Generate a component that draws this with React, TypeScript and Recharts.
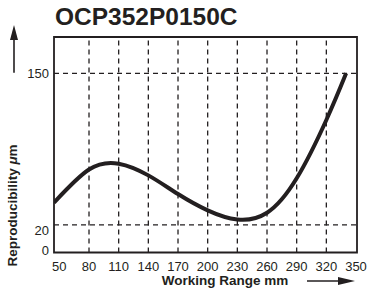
import React from "react";
import { LineChart, Line, XAxis, YAxis, ReferenceLine, ReferenceArea } from "recharts";

const xValues = [44.6, 80, 110, 140, 170, 200, 230, 260, 290, 320, 340];
const yValues = [39.1, 67.5, 72.5, 62.5, 46.5, 32.5, 24.7, 30.5, 60, 110, 150];
const xTicks = [50, 80, 110, 140, 170, 200, 230, 260, 290, 320, 350];
const yTicks = [0, 20, 150];
const gridX = [80, 110, 140, 170, 200, 230, 260, 290, 320];
const gridY = [20, 150];
const xDomain: [number, number] = [44.6, 351];
const yDomain: [number, number] = [-3.6, 181.1];

const title = "OCP352P0150C";
const xLabel = "Working Range mm";

const data = xValues.map((x, i) => ({ x, y: yValues[i] }));

const INK = "#231f20";
const FONT = "'Liberation Sans', Arial, Helvetica, sans-serif";

const yNudge: Record<number, number> = { 0: 2, 20: 5, 150: 0 };

const XTick = (props: any) => {
  const { x, y, payload } = props;
  return (
    <text x={x} y={y + 18} textAnchor="middle" fontSize={13} fill={INK} fontFamily={FONT}>
      {payload.value}
    </text>
  );
};

const YTick = (props: any) => {
  const { x, y, payload } = props;
  const n = yNudge[payload.value] ?? 0;
  return (
    <text x={x - 5} y={y + 4.7 + n} textAnchor="end" fontSize={13} fill={INK} fontFamily={FONT}>
      {payload.value}
    </text>
  );
};

export default function App() {
  return (
    <div style={{ position: "absolute", left: 0, top: 0, width: 370, height: 293, background: "#fff" }}>
      <LineChart width={370} height={293} data={data} margin={{ top: 37, right: 13, bottom: 10.5, left: 0 }}>
        <XAxis
          dataKey="x"
          type="number"
          domain={xDomain}
          allowDataOverflow
          ticks={xTicks}
          tick={<XTick />}
          tickLine={false}
          axisLine={false}
          tickSize={0}
          tickMargin={0}
          height={30}
          interval={0}
        />
        <YAxis
          type="number"
          domain={yDomain}
          allowDataOverflow
          ticks={yTicks}
          tick={<YTick />}
          tickLine={false}
          axisLine={false}
          tickSize={0}
          tickMargin={0}
          width={54}
          interval={0}
        />
        {gridX.map((v) => (
          <ReferenceLine key={"gx" + v} x={v} stroke={INK} strokeWidth={1.3} strokeDasharray="5 4" />
        ))}
        {gridY.map((v) => (
          <ReferenceLine key={"gy" + v} y={v} stroke={INK} strokeWidth={1.3} strokeDasharray="5 4" />
        ))}
        <ReferenceArea
          x1={xDomain[0]}
          x2={xDomain[1]}
          y1={yDomain[0]}
          y2={yDomain[1]}
          fill="none"
          fillOpacity={0}
          stroke={INK}
          strokeWidth={1.8}
        />
        <Line
          type="natural"
          dataKey="y"
          stroke={INK}
          strokeWidth={4}
          dot={false}
          activeDot={false}
          isAnimationActive={false}
          strokeLinecap="butt"
        />
      </LineChart>
      <svg
        width={370}
        height={293}
        style={{ position: "absolute", left: 0, top: 0, pointerEvents: "none" }}
      >
        <text x={55} y={25} fontSize={24.5} fontWeight="bold" fill={INK} fontFamily={FONT}>
          {title}
        </text>
        <text
          transform="translate(12,205.5) rotate(-90)"
          textAnchor="middle"
          dominantBaseline="central"
          fontSize={13.5}
          fontWeight="bold"
          fill={INK}
          fontFamily={FONT}
        >
          Reproducibility <tspan fontStyle="italic">μ</tspan>m
        </text>
        <text x={225} y={285} textAnchor="middle" fontSize={13.5} fontWeight="bold" fill={INK} fontFamily={FONT}>
          {xLabel}
        </text>
        <line x1={14} y1={72.7} x2={14} y2={36} stroke={INK} strokeWidth={1.6} />
        <polygon points="10,40 14,25 18,40" fill={INK} />
        <line x1={307} y1={281} x2={340} y2={281} stroke={INK} strokeWidth={1.6} />
        <polygon points="338,277 355,281 338,285" fill={INK} />
      </svg>
    </div>
  );
}
